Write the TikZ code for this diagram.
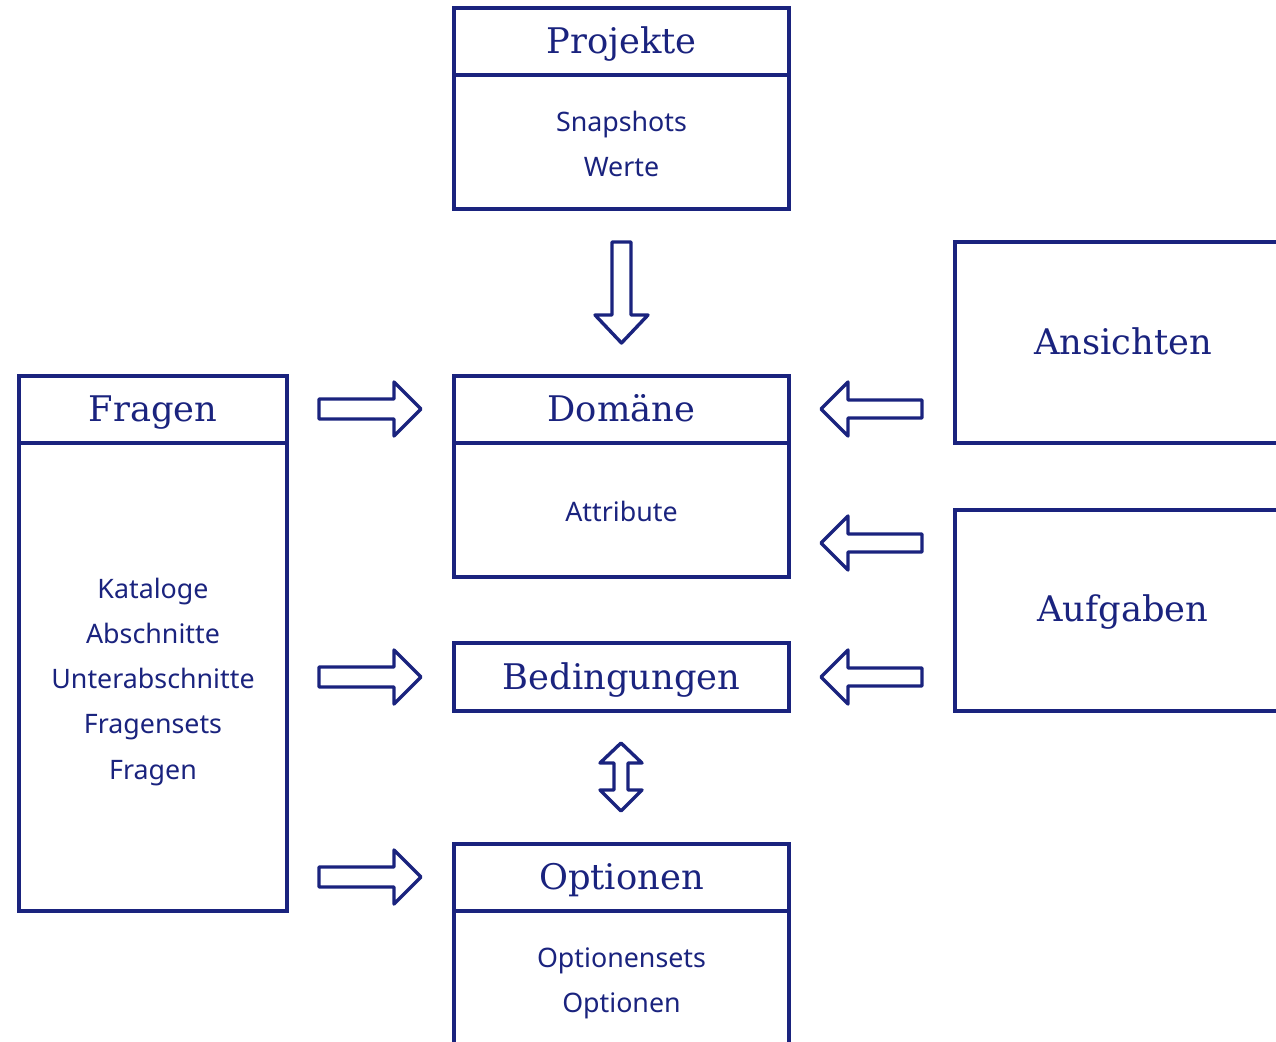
\documentclass[tikz,border=0pt]{standalone}
\usepackage{fontspec}
\setsansfont{Noto Sans}
\newfontfamily\titlefont{DejaVu Serif}
\usetikzlibrary{calc}
\definecolor{navy}{RGB}{26,35,126}
\tikzset{
  box/.style={draw=navy, line width=3.3pt, rectangle, inner sep=0pt, outer sep=0pt, anchor=north west},
  divider/.style={draw=navy, line width=3.3pt},
  ttl/.style={text=navy, font=\titlefont\fontsize{35.3}{40}\selectfont, inner sep=0pt, anchor=base},
  body/.style={text=navy, font=\sffamily\fontsize{26.8}{45}\selectfont, inner sep=0pt, anchor=base},
  blockarrow/.style={draw=navy, line width=3.4pt, line join=round, fill=white},
}
\begin{document}
\begin{tikzpicture}[x=1pt,y=-1pt]
\useasboundingbox (0,0) rectangle (1276,1041);
\clip (0,0) rectangle (1276,1041);
% boxes
\node[box, minimum width=335pt, minimum height=201pt] (proj) at (454,8) {};
\node[box, minimum width=335pt, minimum height=201pt] (dom) at (454,376) {};
\node[box, minimum width=335pt, minimum height=68pt] (bed) at (454,643) {};
\node[box, minimum width=335pt, minimum height=260pt] (opt) at (454,844) {};
\node[box, minimum width=268pt, minimum height=535pt] (fra) at (19,376) {};
\node[box, minimum width=400pt, minimum height=201pt] (ans) at (955,242) {};
\node[box, minimum width=400pt, minimum height=201pt] (auf) at (955,510) {};
% dividers
\draw[divider] ($(proj.north west)+(0,67)$) -- ($(proj.north east)+(0,67)$);
\draw[divider] ($(dom.north west)+(0,67)$) -- ($(dom.north east)+(0,67)$);
\draw[divider] ($(opt.north west)+(0,67)$) -- ($(opt.north east)+(0,67)$);
\draw[divider] ($(fra.north west)+(0,67)$) -- ($(fra.north east)+(0,67)$);
% titles
\node[ttl] (tproj) at (621.5,53) {Projekte};
\node[ttl] (tdom) at (621.5,421) {Domäne};
\node[ttl] (tbed) at (621.5,689) {Bedingungen};
\node[ttl] (topt) at (621.5,889) {Optionen};
\node[ttl] (tfra) at (153,421) {Fragen};
\node[ttl] (tans) at (1123,354) {Ansichten};
\node[ttl] (tauf) at (1123,621) {Aufgaben};
% bodies
\node[body] (bproj1) at (621.5,131) {Snapshots};
\node[body] (bproj2) at (621.5,176) {Werte};
\node[body] (bdom) at (621.5,521) {Attribute};
\node[body] (bopt1) at (621.5,967) {Optionensets};
\node[body] (bopt2) at (621.5,1012) {Optionen};
\node[body] (bfra1) at (153,598) {Kataloge};
\node[body] (bfra2) at (153,643) {Abschnitte};
\node[body] (bfra3) at (153,688) {Unterabschnitte};
\node[body] (bfra4) at (153,733.5) {Fragensets};
\node[body] (bfra5) at (153,779) {Fragen};
% down arrow
\draw[blockarrow] (612,242) -- (631,242) -- (631,315) -- (648,315) -- (621.5,343) -- (595,315) -- (612,315) -- cycle;
% right arrows
\foreach \c in {409,677,877}{
  \draw[blockarrow] (319,\c-10) -- (394,\c-10) -- (394,\c-27) -- (421,\c) -- (394,\c+27) -- (394,\c+10) -- (319,\c+10) -- cycle;
}
% left arrows
\foreach \c in {409,543,677}{
  \draw[blockarrow] (922,\c-9) -- (848,\c-9) -- (848,\c-27) -- (821,\c) -- (848,\c+27) -- (848,\c+9) -- (922,\c+9) -- cycle;
}
% double arrow
\draw[blockarrow] (621,743) -- (642,763) -- (628,763) -- (628,790) -- (642,790) -- (621,811) -- (600,790) -- (614,790) -- (614,763) -- (600,763) -- cycle;
\end{tikzpicture}
\end{document}
